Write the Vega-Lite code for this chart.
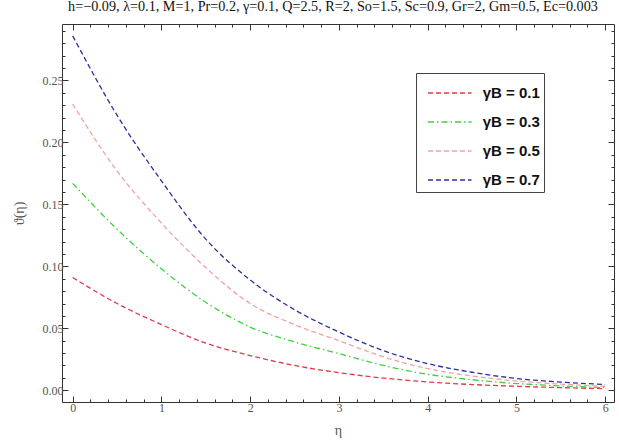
{
  "$schema": "https://vega.github.io/schema/vega-lite/v6.json",
  "width": 552,
  "height": 378,
  "autosize": {"type": "none"},
  "padding": {"left": 62, "top": 24, "right": 5, "bottom": 43},
  "background": "white",
  "title": {
    "text": "h=−0.09, λ=0.1, M=1, Pr=0.2, γ=0.1, Q=2.5, R=2, So=1.5, Sc=0.9, Gr=2, Gm=0.5, Ec=0.003",
    "font": "Liberation Serif",
    "fontSize": 14.2,
    "fontWeight": "normal",
    "color": "#111",
    "anchor": "middle",
    "frame": "group",
    "baseline": "alphabetic",
    "dx": -5,
    "offset": -2
  },
  "config": {
    "view": {"stroke": "#333", "strokeWidth": 1},
    "axis": {
      "grid": false,
      "labelFont": "Liberation Serif",
      "labelFontSize": 12,
      "labelColor": "#555",
      "titleFont": "Liberation Serif",
      "titleFontSize": 14,
      "titleFontWeight": "normal",
      "titleColor": "#555"
    }
  },
  "data": {
    "values": [
      {"eta": 0, "theta": 0.091, "g": "γB = 0.1"},
      {"eta": 0.5, "theta": 0.070, "g": "γB = 0.1"},
      {"eta": 1, "theta": 0.053, "g": "γB = 0.1"},
      {"eta": 1.5, "theta": 0.038, "g": "γB = 0.1"},
      {"eta": 2, "theta": 0.028, "g": "γB = 0.1"},
      {"eta": 2.5, "theta": 0.020, "g": "γB = 0.1"},
      {"eta": 3, "theta": 0.0142, "g": "γB = 0.1"},
      {"eta": 3.5, "theta": 0.0098, "g": "γB = 0.1"},
      {"eta": 4, "theta": 0.0067, "g": "γB = 0.1"},
      {"eta": 4.5, "theta": 0.0046, "g": "γB = 0.1"},
      {"eta": 5, "theta": 0.0032, "g": "γB = 0.1"},
      {"eta": 5.5, "theta": 0.0021, "g": "γB = 0.1"},
      {"eta": 6, "theta": 0.0013, "g": "γB = 0.1"},
      {"eta": 0, "theta": 0.167, "g": "γB = 0.3"},
      {"eta": 0.5, "theta": 0.130, "g": "γB = 0.3"},
      {"eta": 1, "theta": 0.098, "g": "γB = 0.3"},
      {"eta": 1.5, "theta": 0.071, "g": "γB = 0.3"},
      {"eta": 2, "theta": 0.051, "g": "γB = 0.3"},
      {"eta": 2.5, "theta": 0.039, "g": "γB = 0.3"},
      {"eta": 3, "theta": 0.0296, "g": "γB = 0.3"},
      {"eta": 3.5, "theta": 0.020, "g": "γB = 0.3"},
      {"eta": 4, "theta": 0.0129, "g": "γB = 0.3"},
      {"eta": 4.5, "theta": 0.0085, "g": "γB = 0.3"},
      {"eta": 5, "theta": 0.0054, "g": "γB = 0.3"},
      {"eta": 5.5, "theta": 0.0035, "g": "γB = 0.3"},
      {"eta": 6, "theta": 0.002, "g": "γB = 0.3"},
      {"eta": 0, "theta": 0.231, "g": "γB = 0.5"},
      {"eta": 0.5, "theta": 0.177, "g": "γB = 0.5"},
      {"eta": 1, "theta": 0.135, "g": "γB = 0.5"},
      {"eta": 1.5, "theta": 0.099, "g": "γB = 0.5"},
      {"eta": 2, "theta": 0.070, "g": "γB = 0.5"},
      {"eta": 2.5, "theta": 0.053, "g": "γB = 0.5"},
      {"eta": 3, "theta": 0.040, "g": "γB = 0.5"},
      {"eta": 3.5, "theta": 0.027, "g": "γB = 0.5"},
      {"eta": 4, "theta": 0.0175, "g": "γB = 0.5"},
      {"eta": 4.5, "theta": 0.0115, "g": "γB = 0.5"},
      {"eta": 5, "theta": 0.0075, "g": "γB = 0.5"},
      {"eta": 5.5, "theta": 0.005, "g": "γB = 0.5"},
      {"eta": 6, "theta": 0.0032, "g": "γB = 0.5"},
      {"eta": 0, "theta": 0.286, "g": "γB = 0.7"},
      {"eta": 0.5, "theta": 0.222, "g": "γB = 0.7"},
      {"eta": 1, "theta": 0.169, "g": "γB = 0.7"},
      {"eta": 1.5, "theta": 0.122, "g": "γB = 0.7"},
      {"eta": 2, "theta": 0.089, "g": "γB = 0.7"},
      {"eta": 2.5, "theta": 0.065, "g": "γB = 0.7"},
      {"eta": 3, "theta": 0.047, "g": "γB = 0.7"},
      {"eta": 3.5, "theta": 0.032, "g": "γB = 0.7"},
      {"eta": 4, "theta": 0.0215, "g": "γB = 0.7"},
      {"eta": 4.5, "theta": 0.0145, "g": "γB = 0.7"},
      {"eta": 5, "theta": 0.0095, "g": "γB = 0.7"},
      {"eta": 5.5, "theta": 0.0066, "g": "γB = 0.7"},
      {"eta": 6, "theta": 0.0046, "g": "γB = 0.7"}
    ]
  },
  "layer": [
    {
      "mark": {"type": "line", "interpolate": "monotone", "strokeWidth": 1.3},
      "encoding": {
        "x": {
          "field": "eta", "type": "quantitative",
          "scale": {"domain": [-0.12, 6.1], "nice": false, "zero": false},
          "axis": {
            "orient": "bottom",
            "title": "η",
            "titlePadding": 10,
            "domain": false,
            "tickColor": "#333",
            "tickWidth": 1,
            "tickSize": -6,
            "values": [0, 1, 2, 3, 4, 5, 6],
            "format": "d",
            "labelPadding": 6
          }
        },
        "y": {
          "field": "theta", "type": "quantitative",
          "scale": {"domain": [-0.0095, 0.2956], "nice": false, "zero": false},
          "axis": {
            "orient": "left",
            "title": "ϑ(η)",
            "titlePadding": 16,
            "domain": false,
            "tickColor": "#333",
            "tickWidth": 1,
            "tickSize": -6,
            "values": [0, 0.05, 0.1, 0.15, 0.2, 0.25],
            "format": ".2f",
            "labelPadding": 5
          }
        },
        "color": {
          "field": "g", "type": "nominal",
          "scale": {
            "domain": ["γB = 0.1", "γB = 0.3", "γB = 0.5", "γB = 0.7"],
            "range": ["#e03a48", "#3fd03f", "#f2a2a2", "#2e2ea0"]
          },
          "legend": {
            "orient": "none",
            "legendX": 354,
            "legendY": 49,
            "title": null,
            "symbolType": "M-1.45,0H1.45",
            "symbolSize": 900,
            "symbolOffset": 13.75,
            "symbolStrokeWidth": 1.5,
            "labelFont": "Liberation Sans",
            "labelFontSize": 15,
            "labelFontWeight": "bold",
            "labelColor": "#111",
            "labelOffset": 17,
            "labelExpr": "datum.label + '\u00a0\u00a0\u00a0\u2009'",
            "rowPadding": 5,
            "padding": 4,
            "strokeColor": "#444",
            "fillColor": "white",
            "direction": "vertical"
          }
        },
        "strokeDash": {
          "field": "g", "type": "nominal",
          "scale": {
            "domain": ["γB = 0.1", "γB = 0.3", "γB = 0.5", "γB = 0.7"],
            "range": [[5, 3], [6, 3, 1.5, 3], [5, 3], [5, 3]]
          },
          "legend": null
        }
      }
    },
    {
      "mark": {"type": "line", "opacity": 0},
      "encoding": {
        "x": {
          "field": "eta", "type": "quantitative",
          "axis": {
            "orient": "top", "title": null, "domain": false, "labels": false,
            "tickColor": "#333", "tickWidth": 1, "tickSize": -6,
            "values": [0, 1, 2, 3, 4, 5, 6]
          }
        },
        "y": {
          "field": "theta", "type": "quantitative",
          "axis": {
            "orient": "right", "title": null, "domain": false, "labels": false,
            "tickColor": "#333", "tickWidth": 1, "tickSize": -6,
            "values": [0, 0.05, 0.1, 0.15, 0.2, 0.25]
          }
        },
        "detail": {"field": "g", "type": "nominal"}
      }
    },
    {
      "mark": {"type": "line", "opacity": 0},
      "encoding": {
        "x": {
          "field": "eta", "type": "quantitative",
          "axis": {
            "orient": "bottom", "title": null, "domain": false, "labels": false,
            "tickColor": "#333", "tickWidth": 1, "tickSize": -3,
            "values": [0.2,0.4,0.6,0.8,1.2,1.4,1.6,1.8,2.2,2.4,2.6,2.8,3.2,3.4,3.6,3.8,4.2,4.4,4.6,4.8,5.2,5.4,5.6,5.8]
          }
        },
        "y": {
          "field": "theta", "type": "quantitative",
          "axis": {
            "orient": "left", "title": null, "domain": false, "labels": false,
            "tickColor": "#333", "tickWidth": 1, "tickSize": -3,
            "values": [0.01,0.02,0.03,0.04,0.06,0.07,0.08,0.09,0.11,0.12,0.13,0.14,0.16,0.17,0.18,0.19,0.21,0.22,0.23,0.24,0.26,0.27,0.28,0.29]
          }
        },
        "detail": {"field": "g", "type": "nominal"}
      }
    },
    {
      "mark": {"type": "line", "opacity": 0},
      "encoding": {
        "x": {
          "field": "eta", "type": "quantitative",
          "axis": {
            "orient": "top", "title": null, "domain": false, "labels": false,
            "tickColor": "#333", "tickWidth": 1, "tickSize": -3,
            "values": [0.2,0.4,0.6,0.8,1.2,1.4,1.6,1.8,2.2,2.4,2.6,2.8,3.2,3.4,3.6,3.8,4.2,4.4,4.6,4.8,5.2,5.4,5.6,5.8]
          }
        },
        "y": {
          "field": "theta", "type": "quantitative",
          "axis": {
            "orient": "right", "title": null, "domain": false, "labels": false,
            "tickColor": "#333", "tickWidth": 1, "tickSize": -3,
            "values": [0.01,0.02,0.03,0.04,0.06,0.07,0.08,0.09,0.11,0.12,0.13,0.14,0.16,0.17,0.18,0.19,0.21,0.22,0.23,0.24,0.26,0.27,0.28,0.29]
          }
        },
        "detail": {"field": "g", "type": "nominal"}
      }
    }
  ],
  "resolve": {"axis": {"x": "independent", "y": "independent"}}
}
